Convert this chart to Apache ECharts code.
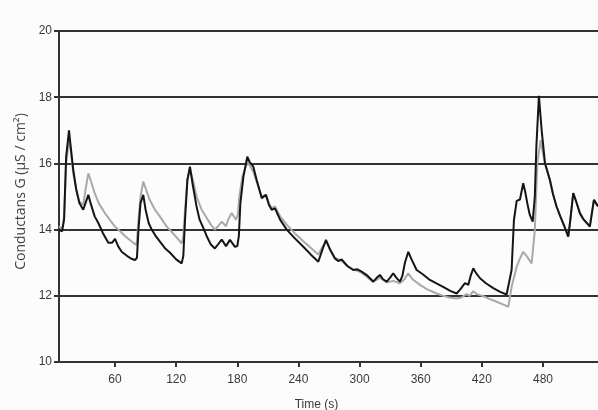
<!DOCTYPE html>
<html>
<head>
<meta charset="utf-8">
<script src="https://cdn.jsdelivr.net/npm/echarts@6/dist/echarts.min.js"></script>
<style>
    html, body { margin: 0; padding: 0; background: #fcfcfc; }
    #chart { width: 598px; height: 410px; }
</style>
</head>
<body>
<div id="chart"></div>
<script>
// x tick labels (s)
var timeTicks = [60, 120, 180, 240, 300, 360, 420, 480];

// black curve: time (s) and conductance (µS/cm²)
var blackTime = [5, 8, 10, 12, 14.8, 16.5, 19, 22, 25, 28.8, 31, 33.8, 36, 40, 43.6, 48, 53.4, 57, 60, 63, 66.5, 72, 76, 79.6, 81.5, 83, 85, 87.7, 90, 93, 96, 100, 105, 109, 114, 120, 125.4, 127, 128.7, 131, 133.5, 136, 140, 143, 146.6, 150, 154, 158, 161, 164.7, 168.9, 172.8, 177.7, 180, 181.5, 183, 186, 189.8, 192, 195.7, 199, 204, 208.1, 211, 213.7, 217, 222, 228.5, 236, 244.8, 252, 259.5, 263, 267, 271, 275.8, 279, 282.4, 288, 293.8, 298, 302, 308, 313.4, 317, 320, 323, 326.6, 330, 333, 336, 339.6, 342, 344.5, 347.8, 351, 356, 362, 369, 375, 382, 389, 395.3, 399, 403.4, 406.7, 409, 411.6, 414, 418.2, 424, 431.2, 438, 444.3, 446, 449.2, 451.5, 454.2, 457.4, 460.6, 462.5, 464.6, 467, 469.9, 472, 473.5, 476, 478.7, 482, 486.8, 490, 493.4, 497, 501, 504.8, 506.5, 509.7, 512, 516.3, 520, 523, 526, 528, 530, 532, 534];
var blackG = [14.0, 13.95, 14.3, 16.2, 17.0, 16.5, 15.8, 15.2, 14.8, 14.6, 14.8, 15.05, 14.8, 14.4, 14.2, 13.9, 13.6, 13.6, 13.72, 13.5, 13.33, 13.2, 13.12, 13.08, 13.15, 14.0, 14.8, 15.05, 14.6, 14.2, 14.0, 13.8, 13.6, 13.44, 13.3, 13.1, 12.98, 13.2, 14.3, 15.5, 15.9, 15.4, 14.7, 14.3, 14.05, 13.8, 13.55, 13.43, 13.55, 13.7, 13.5, 13.69, 13.48, 13.5, 13.8, 14.8, 15.6, 16.2, 16.05, 15.9, 15.5, 14.95, 15.05, 14.75, 14.6, 14.64, 14.3, 14.0, 13.75, 13.48, 13.25, 13.03, 13.35, 13.69, 13.4, 13.13, 13.05, 13.1, 12.9, 12.78, 12.8, 12.73, 12.6, 12.43, 12.55, 12.63, 12.5, 12.43, 12.55, 12.68, 12.55, 12.43, 12.6, 13.0, 13.33, 13.1, 12.78, 12.65, 12.48, 12.38, 12.27, 12.15, 12.07, 12.2, 12.38, 12.33, 12.6, 12.83, 12.7, 12.53, 12.38, 12.23, 12.12, 12.04, 12.07, 12.78, 14.29, 14.87, 14.91, 15.4, 15.15, 14.8, 14.45, 14.24, 15.0, 16.5, 18.04, 17.0, 16.0, 15.5, 15.05, 14.69, 14.4, 14.1, 13.79, 14.2, 15.1, 14.9, 14.49, 14.3, 14.2, 14.09, 14.5, 14.9, 14.8, 14.7];

// grey curve
var greyTime = [5, 8, 10, 12, 14.8, 16.5, 19, 22, 25, 28.8, 31, 33.8, 36, 40, 44, 50, 56, 60, 65, 70, 76, 81.2, 83, 85, 87.7, 90, 94, 99.2, 104, 110.7, 115, 120, 125.4, 127, 128.7, 131, 133.5, 136, 140, 145, 150, 154, 158, 161, 164.7, 168.9, 171, 174.5, 178.7, 180.5, 182, 185, 189.8, 192, 195.7, 199, 204, 208.1, 211, 213.7, 217, 222, 228.5, 236, 244.8, 252, 259.5, 263, 267, 271, 275.8, 282.4, 288, 293.8, 302, 308, 313.4, 320, 326.6, 333, 339.6, 344, 347.8, 352, 359.3, 366, 375.6, 382, 388, 395, 400, 405, 408, 411.6, 415, 421.4, 428, 434.5, 440, 446, 449.2, 454.2, 457, 460.6, 464, 468.9, 472, 474.4, 477.7, 480, 482, 486.8, 490, 493.4, 497, 501, 504.8, 506.5, 509.7, 512, 516.3, 520, 523, 526, 528, 530, 532, 534];
var greyG = [14.1, 14.0, 14.4, 16.0, 16.7, 16.4, 15.7, 15.2, 14.85, 14.75, 15.2, 15.7, 15.5, 15.1, 14.8, 14.5, 14.25, 14.09, 13.95, 13.8, 13.65, 13.53, 14.3, 15.0, 15.45, 15.25, 14.9, 14.6, 14.4, 14.09, 13.95, 13.78, 13.58, 13.8, 14.6, 15.5, 15.85, 15.55, 15.0, 14.6, 14.35, 14.15, 14.0, 14.1, 14.24, 14.1, 14.3, 14.5, 14.3, 14.45, 15.0, 15.6, 16.05, 15.95, 15.75, 15.45, 15.0, 15.05, 14.8, 14.65, 14.7, 14.4, 14.15, 13.9, 13.65, 13.45, 13.25, 13.45, 13.65, 13.4, 13.15, 13.05, 12.9, 12.8, 12.7, 12.55, 12.42, 12.55, 12.4, 12.45, 12.38, 12.5, 12.68, 12.5, 12.33, 12.2, 12.07, 12.0, 11.95, 11.92, 11.95, 12.05, 12.0, 12.14, 12.05, 11.99, 11.9, 11.82, 11.75, 11.67, 12.27, 12.88, 13.1, 13.33, 13.2, 12.98, 13.99, 16.0, 16.7, 16.3, 16.0, 15.5, 15.05, 14.69, 14.4, 14.1, 13.79, 14.2, 15.1, 14.9, 14.49, 14.3, 14.2, 14.09, 14.5, 14.9, 14.8, 14.7];

function pairs(ts, vs) {
    var out = [];
    for (var i = 0; i < ts.length; i++) {
        out.push([ts[i], vs[i]]);
    }
    return out;
}

function $extend(a, b) {
    var o = {};
    for (var k in a) o[k] = a[k];
    for (var j in b) o[j] = b[j];
    return o;
}

var txt = { fontFamily: 'Liberation Sans, Arial, sans-serif', fontSize: 12, color: '#3a3a3a' };
var axisDark = { color: '#333', width: 2 };

var myChart = echarts.init(document.getElementById('chart'), null, { renderer: 'canvas' });
myChart.setOption({
    backgroundColor: '#fcfcfc',
    animation: false,
    grid: { left: 59, right: 0, top: 31, bottom: 48, outerBoundsMode: 'none', containLabel: false },
    xAxis: {
        type: 'value',
        min: 5,
        max: 534,
        name: 'Time (s)',
        nameLocation: 'middle',
        nameGap: 37,
        nameTextStyle: $extend(txt, { padding: [0, 24, 0, 0] }),
        axisLine: { show: true, lineStyle: axisDark },
        axisTick: { show: true, length: 5, lineStyle: axisDark, customValues: timeTicks },
        axisLabel: $extend(txt, { margin: 12, customValues: timeTicks }),
        splitLine: { show: false }
    },
    yAxis: {
        type: 'value',
        min: 10,
        max: 20,
        interval: 2,
        name: 'Conductans G (µS / cm²)',
        nameLocation: 'middle',
        nameGap: 31,
        nameTextStyle: { fontFamily: 'Open Sans, Noto Sans, sans-serif', fontSize: 14, color: '#444', padding: [0, 0, 0, 10] },
        axisLine: { show: true, lineStyle: axisDark },
        axisTick: { show: true, length: 5, lineStyle: axisDark },
        axisLabel: $extend(txt, { margin: 7 }),
        splitLine: { show: true, lineStyle: { color: '#333', width: 2 } }
    },
    series: [{
        name: 'grey',
        type: 'line',
        data: pairs(greyTime, greyG),
        showSymbol: false,
        lineStyle: { color: '#a9a9a9', width: 2 },
        z: 2
    }, {
        name: 'black',
        type: 'line',
        data: pairs(blackTime, blackG),
        showSymbol: false,
        lineStyle: { color: '#151515', width: 2 },
        z: 3
    }]
});
</script>
</body>
</html>
